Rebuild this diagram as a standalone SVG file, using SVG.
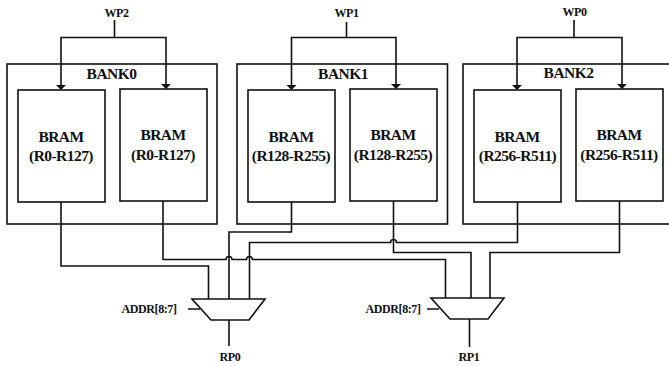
<svg xmlns="http://www.w3.org/2000/svg" width="669" height="366" viewBox="0 0 669 366">
<style>
.l{fill:none;stroke:#111;stroke-width:1.6}
.b{fill:#fff;stroke:#111;stroke-width:1.6}
.h{fill:#111;stroke:none}
text{font-family:"Liberation Serif",serif;font-weight:bold;fill:#111;text-anchor:middle}
.m{font-size:15.500px;letter-spacing:-.55px}
.s{font-size:12px;letter-spacing:-.4px}
</style>
<defs><path id="a" class="h" d="M-5 0H5L0 5Z"/></defs>
<g id="bank0"><rect class="b" x="7" y="64" width="210" height="160"/><text class="m" x="111.500" y="79">BANK0</text></g>
<g id="bank1"><rect class="b" x="237" y="64" width="210.500" height="160"/><text class="m" x="343" y="79">BANK1</text></g>
<g id="bank2"><rect class="b" x="463" y="64" width="210" height="160"/><text class="m" x="568.500" y="78">BANK2</text></g>
<g id="bram0a"><rect class="b" x="18" y="90" width="87" height="112"/><text class="m" x="61" y="142">BRAM</text><text class="m" x="61" y="161">(R0-R127)</text></g>
<g id="bram0b"><rect class="b" x="120" y="89" width="87" height="112"/><text class="m" x="163" y="140">BRAM</text><text class="m" x="163" y="160">(R0-R127)</text></g>
<g id="bram1a"><rect class="b" x="248" y="90" width="87" height="112"/><text class="m" x="291" y="142">BRAM</text><text class="m" x="291" y="161">(R128-R255)</text></g>
<g id="bram1b"><rect class="b" x="350" y="89" width="87" height="112"/><text class="m" x="393" y="140">BRAM</text><text class="m" x="393" y="160">(R128-R255)</text></g>
<g id="bram2a"><rect class="b" x="474" y="90" width="87" height="112"/><text class="m" x="517" y="142">BRAM</text><text class="m" x="517.500" y="161">(R256-R511)</text></g>
<g id="bram2b"><rect class="b" x="576" y="89" width="87" height="112"/><text class="m" x="619" y="140">BRAM</text><text class="m" x="619" y="160">(R256-R511)</text></g>
<g id="mux0"><path class="b" d="M192 299H265L249 320H211Z"/><text class="s" x="149" y="313">ADDR[8:7]</text><text class="s" x="230" y="361">RP0</text></g>
<g id="mux1"><path class="b" d="M431 298H504L488 319H450Z"/><text class="s" x="393" y="313">ADDR[8:7]</text><text class="s" x="469" y="361">RP1</text></g>
<g id="wp2"><text class="s" x="116.500" y="17">WP2</text></g>
<g id="wp1"><text class="s" x="346.500" y="17">WP1</text></g>
<g id="wp0"><text class="s" x="574.500" y="16">WP0</text></g>
<g id="connectors">
<path class="l" d="M114.500 20V37.500M61 85V37.500H166V84"/>
<path class="l" d="M346.500 22V37.500M291.500 85V37.500H396V84"/>
<path class="l" d="M574 20V37.500M517 85V37.500H622V84"/>
<use href="#a" x="61" y="85"/><use href="#a" x="166" y="84"/><use href="#a" x="291.500" y="85"/><use href="#a" x="396" y="84"/><use href="#a" x="517" y="85"/><use href="#a" x="622" y="84"/>
<path class="l" d="M61 202V266H208.500V299"/>
<path class="l" d="M163 201V259.500H226a3 3 0 0 1 6 0H246.500a3 3 0 0 1 6 0H445.500V298"/>
<path class="l" d="M291.500 202V232H229V299"/>
<path class="l" d="M393.500 201V252.500H471V298"/>
<path class="l" d="M517.500 202V242.500H396.500a3 3 0 0 0 -6 0H249.500V299"/>
<path class="l" d="M619.500 201V252.500H490V298"/>
<path class="l" d="M188 309H200M427 309H439"/>
<path class="l" d="M229 320V346M469.500 319V347"/>
</g>
</svg>
